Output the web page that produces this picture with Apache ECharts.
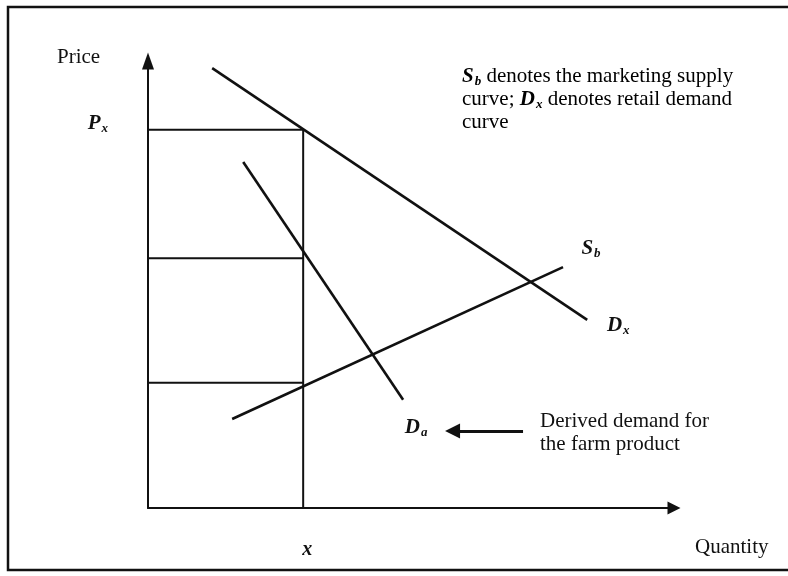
<!DOCTYPE html>
<html>
<head>
<meta charset="utf-8">
<script src="https://cdn.jsdelivr.net/npm/echarts@6/dist/echarts.min.js"></script>
<style>
  html, body { margin: 0; padding: 0; background: #fff; }
  #main { width: 788px; height: 576px; }
</style>
</head>
<body>
<div id="main"></div>
<script>
// quantity 0..100, price 0..100 (abstract units)
const retailDemand = [[12.2, 98.4], [83.5, 42.1]];     // Dx
const derivedDemand = [[18.1, 77.4], [48.5, 24.2]];    // Da
const marketingSupply = [[16.0, 19.9], [78.9, 53.9]];  // Sb
const quantityX = 29.5;
const priceLevels = [84.6, 55.9, 28.0];
const noteArrow = [[71.3, 17.2], [57.9, 17.2]];

const serif = 'Liberation Serif';
const ink = '#111';

const subRich = {
  i: { fontFamily: serif, fontSize: 21, fontStyle: 'italic', fontWeight: 'bold', color: ink },
  s: { fontFamily: serif, fontSize: 13, fontStyle: 'italic', fontWeight: 'bold', color: ink, padding: [10, 0, 0, 1] },
  t: { fontFamily: serif, fontSize: 21, color: ink }
};

function curve(name, pts, labelText, offset) {
  const data = pts.map(function (p) { return { value: p }; });
  data[data.length - 1].label = {
    show: true,
    position: 'inside',
    offset: offset,
    formatter: labelText,
    rich: subRich
  };
  return {
    name: name,
    type: 'line',
    data: data,
    symbol: 'circle',
    symbolSize: 0,
    showSymbol: true,
    silent: true,
    lineStyle: { color: ink, width: 2.6 },
    itemStyle: { color: ink },
    z: 3
  };
}

// guide lines: vertical at x, horizontals from price axis to x
const guides = priceLevels.map(function (p, i) {
  return {
    name: 'level' + i,
    type: 'line',
    data: [[0, p], [quantityX, p]],
    symbol: 'none',
    silent: true,
    lineStyle: { color: ink, width: 2 }
  };
});
guides.push({
  name: 'xline',
  type: 'line',
  data: [[quantityX, 0], [quantityX, priceLevels[0]]],
  symbol: 'none',
  silent: true,
  lineStyle: { color: ink, width: 2 }
});

const chart = echarts.init(document.getElementById('main'), null, { renderer: 'canvas' });

const option = {
  backgroundColor: '#fff',
  animation: false,
  grid: { left: 148, right: 114, top: 61, bottom: 68 },
  xAxis: {
    type: 'value',
    min: 0,
    max: 100,
    axisLine: {
      show: true,
      symbol: ['none', 'triangle'],
      symbolSize: [13, 13],
      lineStyle: { color: ink, width: 2 }
    },
    axisTick: { show: false },
    splitLine: { show: false },
    axisLabel: {
      customValues: [quantityX],
      margin: 32,
      padding: [0, 0, 0, 8],
      formatter: function () { return 'x'; },
      fontFamily: serif,
      fontSize: 20,
      fontStyle: 'italic',
      fontWeight: 'bold',
      color: ink
    }
  },
  yAxis: {
    type: 'value',
    min: 0,
    max: 100,
    axisLine: {
      show: true,
      symbol: ['none', 'triangle'],
      symbolSize: [12, 17],
      lineStyle: { color: ink, width: 2 }
    },
    axisTick: { show: false },
    splitLine: { show: false },
    axisLabel: {
      customValues: [priceLevels[0]],
      margin: 40,
      padding: [0, 0, 12, 0],
      formatter: function () { return '{i|P}{s|x}'; },
      rich: subRich
    }
  },
  series: [
    curve('Dx', retailDemand, '{i|D}{s|x}', [31, 6]),
    curve('Da', derivedDemand, '{i|D}{s|a}', [13, 28]),
    curve('Sb', marketingSupply, '{i|S}{s|b}', [28, -18]),
    {
      name: 'pointer',
      type: 'lines',
      coordinateSystem: 'cartesian2d',
      silent: true,
      symbol: ['none', 'triangle'],
      symbolSize: 15,
      lineStyle: { color: ink, width: 3, opacity: 1, curveness: 0 },
      data: [{ coords: noteArrow }]
    }
  ].concat(guides),
  graphic: [
    {
      type: 'rect',
      shape: { x: 8, y: 7, width: 800, height: 563 },
      style: { fill: 'none', stroke: ink, lineWidth: 2.5 },
      silent: true
    },
    {
      type: 'text', left: 57, top: 47,
      style: { text: 'Price', fontFamily: serif, fontSize: 21, fill: ink }
    },
    {
      type: 'text', left: 695, top: 537,
      style: { text: 'Quantity', fontFamily: serif, fontSize: 21, fill: ink }
    },
    {
      type: 'text', left: 462, top: 65,
      style: {
        text: '{i|S}{s|b}{t| denotes the marketing supply}\n{t|curve; }{i|D}{s|x}{t| denotes retail demand}\n{t|curve}',
        rich: {
          i: Object.assign({}, subRich.i, { lineHeight: 23 }),
          s: Object.assign({}, subRich.s, { lineHeight: 23 }),
          t: Object.assign({}, subRich.t, { lineHeight: 23 })
        }
      }
    },
    {
      type: 'text', left: 540, top: 410,
      style: {
        text: 'Derived demand for\nthe farm product',
        fontFamily: serif, fontSize: 21, lineHeight: 23, fill: ink
      }
    }
  ]
};

chart.setOption(option);
</script>
</body>
</html>
